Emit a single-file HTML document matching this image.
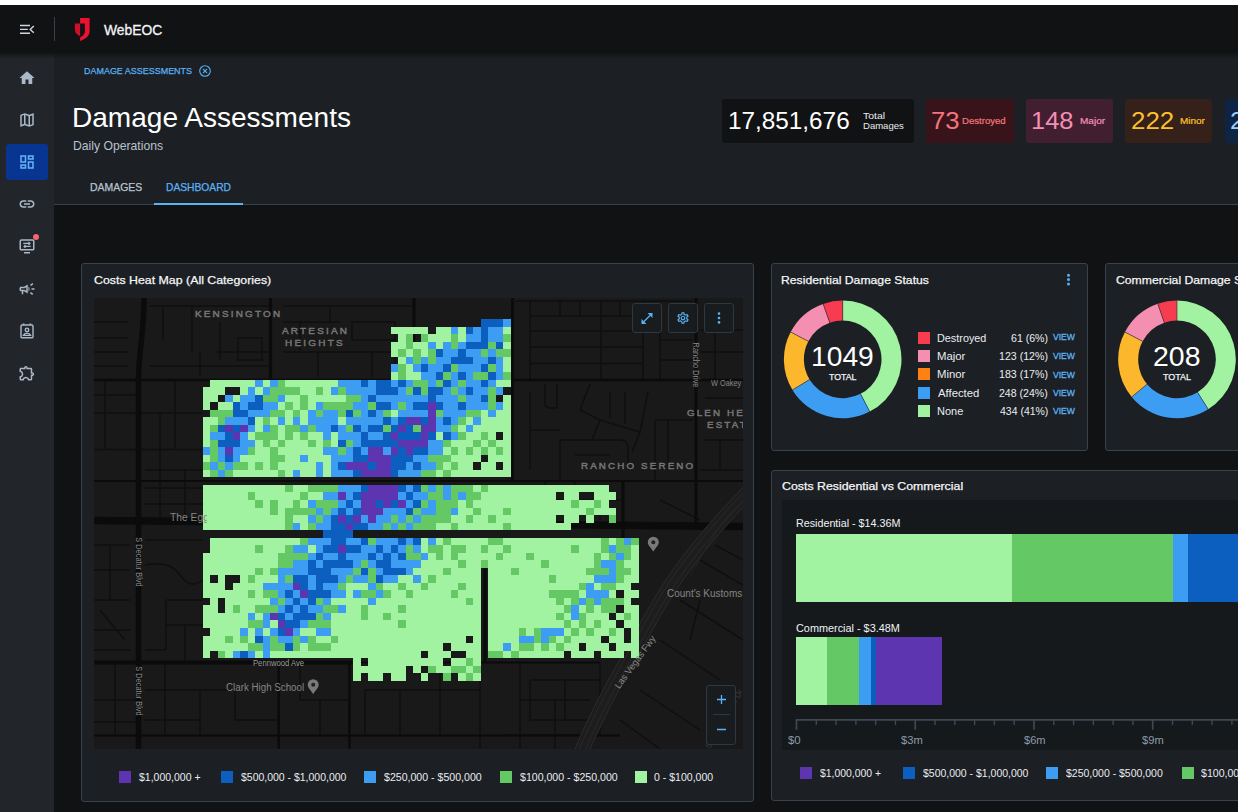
<!DOCTYPE html>
<html lang="en">
<head>
<meta charset="utf-8">
<title>WebEOC - Damage Assessments</title>
<style>
*{box-sizing:border-box;margin:0;padding:0}
html,body{width:1238px;height:812px;overflow:hidden;background:#111214;font-family:"Liberation Sans",sans-serif;color:#fff}
.abs{position:absolute}
#strip{left:0;top:0;width:1238px;height:5px;background:#fff}
#hdr{left:0;top:5px;width:1238px;height:48px;background:#111214}
#side{left:0;top:53px;width:54px;height:759px;background:#22262a}
#phead{left:54px;top:53px;width:1184px;height:151px;background:#1c1f24}
#pline{left:54px;top:204px;width:1184px;height:1px;background:#3a424a}
#dash{left:54px;top:205px;width:1184px;height:607px;background:#111214}
.t{position:absolute;white-space:nowrap;line-height:1}
.card{position:absolute;background:#1c1f23;border:1px solid #38424c;border-radius:3px}
.ct{font-size:12px;color:#f4f6f8;letter-spacing:.1px}
.lg{font-size:11px;color:#e9edf1}
.sw{position:absolute;width:12px;height:12px}
.stat{position:absolute;top:99px;height:44px;border-radius:3px}
.mapl{position:absolute;white-space:nowrap;line-height:1;color:#6f6f6f;font-size:10px;letter-spacing:2.2px;font-weight:bold}
.maps{position:absolute;white-space:nowrap;line-height:1;color:#6a6a6a;font-size:9px}
.mbtn{position:absolute;top:303px;width:30px;height:30px;border:1px solid #2c3842;border-radius:3px;background:rgba(24,28,32,.92)}
</style>
</head>
<body>
<div class="abs" id="strip"></div>
<div class="abs" id="hdr"></div>
<div class="abs" id="side"></div>
<div class="abs" id="phead"></div>
<div class="abs" id="pline"></div>
<div class="abs" id="dash"></div>
<div class="abs" style="left:0;top:53px;width:1238px;height:6px;background:linear-gradient(rgba(17,18,20,.85),rgba(17,18,20,0))"></div>

<!-- header -->
<svg class="abs" style="left:19px;top:23px" width="17" height="14" viewBox="0 0 17 14"><g stroke="#cfd7e0" stroke-width="1.4" fill="none"><path d="M1 2.500h10M1 6.400h7.800M1 10.300h10"/><path d="M14.800 3L11.200 6.400L14.800 9.800"/></g></svg>
<div class="abs" style="left:54px;top:17px;width:1px;height:24px;background:#3a414a"></div>
<svg class="abs" style="left:74px;top:17px" width="17" height="25" viewBox="0 0 17 25"><path d="M.9 6.400H6.100V19.200C3 17.600 .9 15.600 .9 12.500Z" fill="#cf0f2a"/><path d="M6.100 1H15.600V14C15.600 19 11.600 22 6.100 24V20.300C9 19 10.900 17 10.900 14V6.400H6.100Z" fill="#ec1131"/></svg>

<!-- sidebar icons -->
<svg class="abs" style="left:18px;top:69px" width="18" height="18" viewBox="0 0 24 24"><path fill="#aab8c8" d="M10 20v-6h4v6h5v-8h3L12 3 2 12h3v8z"/></svg>
<svg class="abs" style="left:18px;top:111px" width="18" height="18" viewBox="0 0 24 24"><path fill="#aab8c8" d="M20.5 3l-.16.03L15 5.100 9 3 3.360 4.900c-.21.07-.36.25-.36.48V20.500c0 .28.22.5.5.5l.16-.03L9 18.900l6 2.100 5.640-1.900c.21-.07.36-.25.36-.48V3.500c0-.28-.22-.5-.5-.5zM10 5.470l4 1.400v11.660l-4-1.400V5.470zm-5 .99l3-1.010v11.700l-3 1.160V6.460zm14 11.080l-3 1.010V6.860l3-1.160v11.840z"/></svg>
<div class="abs" style="left:6px;top:144px;width:42px;height:36px;border-radius:3px;background:#083591"></div>
<svg class="abs" style="left:18px;top:153px" width="18" height="18" viewBox="0 0 24 24"><path fill="#64b5f6" d="M19 5v2h-4V5h4M9 5v6H5V5h4m10 8v6h-4v-6h4M9 17v2H5v-2h4M21 3h-8v6h8V3zM11 3H3v10h8V3zm10 8h-8v10h8V11zm-10 4H3v6h8v-6z"/></svg>
<svg class="abs" style="left:18px;top:195px" width="18" height="18" viewBox="0 0 24 24"><path fill="#aab8c8" d="M17 7h-4v2h4c1.650 0 3 1.350 3 3s-1.350 3-3 3h-4v2h4c2.760 0 5-2.240 5-5s-2.240-5-5-5zm-6 8H7c-1.650 0-3-1.350-3-3s1.350-3 3-3h4V7H7c-2.760 0-5 2.240-5 5s2.240 5 5 5h4v-2zm-3-4h8v2H8z"/></svg>
<svg class="abs" style="left:18px;top:237px" width="18" height="18" viewBox="0 0 24 24"><g fill="none" stroke="#aab8c8" stroke-width="2"><rect x="3" y="4" width="18" height="13" rx="1.5"/><path d="M8 21h8"/><path d="M7 8.500h9M14 6.500l2 2-2 2M17 12.500H8M10 10.500l-2 2 2 2" stroke-width="1.500"/></g></svg>
<div class="abs" style="left:33px;top:234px;width:6px;height:6px;border-radius:3px;background:#f4656e"></div>
<svg class="abs" style="left:18px;top:280px" width="18" height="18" viewBox="0 0 24 24"><path fill="#aab8c8" d="M18 11v2h4v-2h-4zm-2 6.610c.96.710 2.210 1.650 3.200 2.390.4-.53.8-1.070 1.200-1.600-.99-.74-2.240-1.680-3.200-2.400-.4.540-.8 1.080-1.200 1.610zM20.400 5.600c-.4-.53-.8-1.070-1.200-1.600-.99.740-2.240 1.680-3.200 2.400.4.530.8 1.070 1.200 1.600.96-.72 2.210-1.650 3.200-2.400zM4 9c-1.100 0-2 .9-2 2v2c0 1.100.9 2 2 2h1v4h2v-4h1l5 3V6L8 9H4zm5.030 1.710L11 9.530v4.940l-1.970-1.180-.48-.29H4v-2h4.550l.48-.29zM15.500 12c0-1.330-.58-2.530-1.500-3.350v6.690c.92-.81 1.500-2.010 1.500-3.340z"/></svg>
<svg class="abs" style="left:18px;top:322px" width="18" height="18" viewBox="0 0 24 24"><g fill="none" stroke="#aab8c8" stroke-width="1.900"><rect x="4" y="4" width="16" height="17" rx="1.500"/><path d="M7.500 4V2M16.500 4V2" stroke-width="2.200"/><circle cx="12" cy="10.500" r="2.300"/><path d="M7.300 17.800c.8-2 2.600-3 4.700-3s3.900 1 4.700 3z"/></g></svg>
<svg class="abs" style="left:18px;top:364px" width="18" height="18" viewBox="0 0 24 24"><path fill="#aab8c8" d="M10.500 4.500c.28 0 .5.220.5.500v2h6v6h2c.28 0 .5.220.5.500s-.22.500-.5.500h-2v6h-2.120c-.68-1.750-2.390-3-4.380-3s-3.700 1.250-4.380 3H4v-2.120c1.750-.68 3-2.390 3-4.380 0-1.990-1.240-3.700-2.990-4.380L4 7h6V5c0-.28.220-.5.500-.5m0-2C9.120 2.500 8 3.620 8 5H4c-1.100 0-1.990.9-1.990 2v3.800h.29c1.490 0 2.700 1.210 2.700 2.700s-1.210 2.700-2.700 2.700H2V20c0 1.100.9 2 2 2h3.800v-.3c0-1.490 1.210-2.700 2.700-2.700s2.700 1.210 2.700 2.700v.3H17c1.100 0 2-.9 2-2v-4c1.380 0 2.500-1.120 2.500-2.500S20.380 11 19 11V7c0-1.100-.9-2-2-2h-4c0-1.380-1.120-2.500-2.500-2.500z"/></svg>

<!-- page head -->
<svg class="abs" style="left:198px;top:64px" width="14" height="14" viewBox="0 0 14 14"><circle cx="7" cy="7" r="5.3" fill="none" stroke="#5ab1f3" stroke-width="1.1"/><path d="M4.9 4.9l4.2 4.2M9.1 4.9L4.9 9.1" stroke="#5ab1f3" stroke-width="1.1"/></svg>
<div class="abs" style="left:154px;top:203px;width:89px;height:2px;background:#5ab1f3"></div>

<!-- stats -->
<div class="stat" style="left:722px;width:192px;background:#111214"></div>
<div class="stat" style="left:926px;width:88px;background:#38141a"></div>
<div class="stat" style="left:1026px;width:87px;background:#411f31"></div>
<div class="stat" style="left:1125px;width:87px;background:#35201a"></div>
<div class="stat" style="left:1225px;width:87px;background:#0f2345"></div>

<!-- heat map card -->
<div class="card" style="left:81px;top:263px;width:673px;height:539px"></div>
<svg class="abs" style="left:94px;top:298px;border-radius:2px" width="649" height="451" viewBox="94 298 649 451">
<rect x="94" y="298" width="649" height="451" fill="#191919"/>
<path d="M94 322H128M94 338H128M94 352H128M94 366H128M94 413H203M94 449.500H203M94 395H137M105 381V449M175 381V449M160 413V449" stroke="#0f0f0f" stroke-width="1.5" fill="none"/>
<path d="M150 306H270M163 306V340M192 306V352M220 322V360M238 338H262V360H238zM215 352H270M150 366H270M200 352V377" stroke="#0f0f0f" stroke-width="1.5" fill="none"/>
<path d="M283 306H414M283 322H340M283 352H414M300 322V352M330 306V322M352 322H395V340H352zM372 352V377M318 352V377M395 352V377" stroke="#0f0f0f" stroke-width="1.5" fill="none"/>
<path d="M145 470H203M145 488H203M145 504H203M160 449V520M185 470V520" stroke="#0f0f0f" stroke-width="1.5" fill="none"/>
<path d="M515 301H693M530 316H643M530 331H643M530 347H643M530 363.500H643M530 301V380M601 301V380M643 301V380M560 301V316M580 301V316M620 301V316M660 316V380M660 340H693M660 360H693" stroke="#0f0f0f" stroke-width="1.5" fill="none"/>
<path d="M700 330H743M700 352H743M715 330V380M705 398H743M705 440H743M720 440V470M700 470H743" stroke="#0f0f0f" stroke-width="1.5" fill="none"/>
<path d="M545 384V404Q545 408 551 408H557V384M530 392V470M590 384L580 410L600 420L640 432L648 392M610 392V418M625 392V424M600 420L592 440M640 432L632 452M560 440H620Q628 440 628 448V470M560 440V480M530 430H560M575 455H610M655 420V480M668 420V470M655 420H693" stroke="#0f0f0f" stroke-width="1.5" fill="none"/>
<path d="M530 500H623M545 480V520M575 480V500M600 500V520" stroke="#0f0f0f" stroke-width="1.5" fill="none"/>
<path d="M94 545H130M94 570H130M94 600H130M94 630H130M110 545V600M100 610L125 640M94 650H130" stroke="#0f0f0f" stroke-width="1.5" fill="none"/>
<path d="M145 540H203M145 565Q170 560 180 575T203 580M166 600H203M166 600V650M166 625H203M185 625V662M145 650H166" stroke="#0f0f0f" stroke-width="1.5" fill="none"/>
<path d="M94 700H137M94 722H137M115 662V735M145 690H279M165 662V735M200 690V735M235 690V720H279M145 720H200M300 700H349V735M300 662V700M320 700V735M365 690H480M365 690V735M400 690V735M440 662V735M480 681V749M520 662V749M520 700H590M555 700V749M500 735H600" stroke="#0f0f0f" stroke-width="1.5" fill="none"/>
<path d="M530 680H600M530 680V720H600M565 680V720M600 662V735" stroke="#0f0f0f" stroke-width="1.5" fill="none"/>
<path d="M660 500L700 520M700 560L743 585M680 600L743 640M660 640L720 680M640 690L700 730M620 720L660 749M700 600L690 640M715 545L743 560" stroke="#0f0f0f" stroke-width="1.5" fill="none"/>
<path d="M94 380H743" stroke="#0b0b0b" stroke-width="2.6" fill="none"/>
<path d="M94 520.500L743 526.500" stroke="#0b0b0b" stroke-width="7.5" fill="none"/>
<path d="M144 298C144 335 138.500 350 138.500 381V749" stroke="#0b0b0b" stroke-width="5.5" fill="none"/>
<path d="M270.500 298V380" stroke="#0b0b0b" stroke-width="3.2" fill="none"/>
<path d="M414 298V380" stroke="#0b0b0b" stroke-width="3" fill="none"/>
<path d="M512.500 298V482" stroke="#0b0b0b" stroke-width="3" fill="none"/>
<path d="M696 298V528" stroke="#0b0b0b" stroke-width="3" fill="none"/>
<path d="M94 481H743" stroke="#0b0b0b" stroke-width="1.8" fill="none"/>
<path d="M94 662.500H355" stroke="#0b0b0b" stroke-width="4" fill="none"/>
<path d="M355 662.500H600" stroke="#0b0b0b" stroke-width="2" fill="none"/>
<path d="M94 735.500H620" stroke="#0b0b0b" stroke-width="2.2" fill="none"/>
<path d="M278.700 662V749" stroke="#0b0b0b" stroke-width="2.5" fill="none"/>
<path d="M349.500 662V749" stroke="#0b0b0b" stroke-width="2.5" fill="none"/>
<path d="M623 482V540" stroke="#0b0b0b" stroke-width="3" fill="none"/>
<path d="M485 540V662" stroke="#0b0b0b" stroke-width="3" fill="none"/>
<path d="M760 480C700 540 672 580 650 620S600 705 578 760" stroke="#1d1d1d" stroke-width="15" fill="none"/>
<path d="M760 480C700 540 672 580 650 620S600 705 578 760" stroke="#2c2c2c" stroke-width="1" fill="none" transform="translate(-6 -3.6)"/>
<path d="M760 480C700 540 672 580 650 620S600 705 578 760" stroke="#2a2a2a" stroke-width="1" fill="none" transform="translate(-2.5 -1.5)"/>
<path d="M760 480C700 540 672 580 650 620S600 705 578 760" stroke="#2a2a2a" stroke-width="1" fill="none" transform="translate(2.5 1.5)"/>
<path d="M760 480C700 540 672 580 650 620S600 705 578 760" stroke="#2c2c2c" stroke-width="1" fill="none" transform="translate(6 3.6)"/>
<path d="M743 500C720 520 700 560 690 575" stroke="#262626" stroke-width="1" fill="none"/>
<g transform="translate(313.2 686.5)"><path d="M0 7.500C-3 3-5.500 1-5.500-1.800A5.500 5.500 0 0 1 5.500-1.800C5.500 1 3 3 0 7.500z" fill="#7a7a7a"/><circle cx="0" cy="-1.800" r="2" fill="#222"/></g>
<g transform="translate(653.3 544)"><path d="M0 7.500C-3 3-5.500 1-5.500-1.800A5.500 5.500 0 0 1 5.500-1.800C5.500 1 3 3 0 7.500z" fill="#7a7a7a"/><circle cx="0" cy="-1.800" r="2" fill="#222"/></g>
<g shape-rendering="crispEdges"><path d="M391 327h37v7h-37zM436 327h15v7h-15zM458 327h8v7h-8zM503 327h8v7h-8zM398 334h8v8h-8zM428 334h23v8h-23zM458 334h8v8h-8zM391 342h15v7h-15zM413 342h15v7h-15zM436 342h7v7h-7zM503 342h8v7h-8zM391 349h7v8h-7zM406 349h7v8h-7zM421 349h7v8h-7zM398 357h8v7h-8zM503 357h8v7h-8zM406 364h7v8h-7zM503 364h8v8h-8zM391 372h7v8h-7zM406 372h15v8h-15zM210 380h45v7h-45zM263 380h7v7h-7zM285 380h53v7h-53zM496 380h15v7h-15zM203 387h22v8h-22zM240 387h8v8h-8zM255 387h8v8h-8zM300 387h16v8h-16zM323 387h8v8h-8zM203 395h15v7h-15zM233 395h7v7h-7zM285 395h15v7h-15zM308 395h38v7h-38zM503 395h8v7h-8zM203 402h7v8h-7zM218 402h15v8h-15zM278 402h7v8h-7zM293 402h7v8h-7zM308 402h8v8h-8zM503 402h8v8h-8zM285 410h8v7h-8zM300 410h8v7h-8zM391 410h7v7h-7zM481 410h7v7h-7zM496 410h15v7h-15zM203 417h15v8h-15zM255 417h8v8h-8zM270 417h8v8h-8zM285 417h8v8h-8zM300 417h8v8h-8zM338 417h8v8h-8zM466 417h7v8h-7zM481 417h30v8h-30zM203 425h7v7h-7zM255 425h8v7h-8zM278 425h7v7h-7zM458 425h8v7h-8zM473 425h38v7h-38zM203 432h7v8h-7zM248 432h7v8h-7zM278 432h7v8h-7zM293 432h7v8h-7zM308 432h15v8h-15zM331 432h7v8h-7zM436 432h7v8h-7zM466 432h15v8h-15zM488 432h8v8h-8zM503 432h8v8h-8zM203 440h7v7h-7zM255 440h8v7h-8zM270 440h8v7h-8zM285 440h23v7h-23zM316 440h7v7h-7zM331 440h7v7h-7zM451 440h22v7h-22zM481 440h7v7h-7zM496 440h15v7h-15zM255 447h15v8h-15zM278 447h45v8h-45zM443 447h8v8h-8zM458 447h8v8h-8zM473 447h8v8h-8zM488 447h8v8h-8zM503 447h8v8h-8zM203 455h7v7h-7zM240 455h30v7h-30zM285 455h15v7h-15zM308 455h23v7h-23zM451 455h30v7h-30zM488 455h23v7h-23zM248 462h7v8h-7zM263 462h7v8h-7zM278 462h38v8h-38zM323 462h8v8h-8zM443 462h8v8h-8zM458 462h15v8h-15zM481 462h15v8h-15zM503 462h8v8h-8zM203 470h7v7h-7zM233 470h45v7h-45zM285 470h8v7h-8zM300 470h16v7h-16zM323 470h8v7h-8zM436 470h7v7h-7zM451 470h60v7h-60zM203 485h82v7h-82zM293 485h15v7h-15zM473 485h8v7h-8zM488 485h121v7h-121zM203 492h45v8h-45zM255 492h45v8h-45zM308 492h15v8h-15zM481 492h75v8h-75zM564 492h15v8h-15zM594 492h22v8h-22zM203 500h52v8h-52zM263 500h7v8h-7zM278 500h15v8h-15zM300 500h8v8h-8zM458 500h8v8h-8zM473 500h98v8h-98zM579 500h15v8h-15zM601 500h8v8h-8zM203 508h67v7h-67zM278 508h7v7h-7zM458 508h15v7h-15zM481 508h22v7h-22zM511 508h75v7h-75zM594 508h22v7h-22zM203 515h82v8h-82zM293 515h15v8h-15zM451 515h15v8h-15zM473 515h15v8h-15zM496 515h60v8h-60zM564 515h15v8h-15zM586 515h8v8h-8zM203 523h82v7h-82zM300 523h8v7h-8zM436 523h15v7h-15zM458 523h45v7h-45zM511 523h60v7h-60zM210 538h90v7h-90zM421 538h7v7h-7zM436 538h7v7h-7zM451 538h37v7h-37zM503 538h98v7h-98zM609 538h7v7h-7zM210 545h45v8h-45zM263 545h22v8h-22zM308 545h8v8h-8zM421 545h7v8h-7zM443 545h8v8h-8zM466 545h15v8h-15zM488 545h15v8h-15zM511 545h60v8h-60zM579 545h22v8h-22zM631 545h8v8h-8zM203 553h75v7h-75zM428 553h8v7h-8zM443 553h8v7h-8zM458 553h38v7h-38zM503 553h23v7h-23zM534 553h60v7h-60zM601 553h8v7h-8zM631 553h8v7h-8zM203 560h75v8h-75zM421 560h37v8h-37zM466 560h15v8h-15zM488 560h53v8h-53zM549 560h45v8h-45zM624 560h15v8h-15zM203 568h52v7h-52zM263 568h7v7h-7zM413 568h30v7h-30zM451 568h30v7h-30zM488 568h23v7h-23zM519 568h67v7h-67zM631 568h8v7h-8zM203 575h7v8h-7zM218 575h7v8h-7zM240 575h8v8h-8zM255 575h23v8h-23zM398 575h15v8h-15zM421 575h7v8h-7zM436 575h45v8h-45zM488 575h61v8h-61zM556 575h38v8h-38zM624 575h15v8h-15zM203 583h22v7h-22zM233 583h30v7h-30zM346 583h22v7h-22zM383 583h15v7h-15zM406 583h15v7h-15zM428 583h30v7h-30zM466 583h15v7h-15zM488 583h91v7h-91zM594 583h7v7h-7zM616 583h15v7h-15zM203 590h45v8h-45zM255 590h8v8h-8zM346 590h7v8h-7zM391 590h15v8h-15zM413 590h38v8h-38zM458 590h23v8h-23zM488 590h61v8h-61zM579 590h7v8h-7zM609 590h7v8h-7zM624 590h15v8h-15zM210 598h8v7h-8zM225 598h45v7h-45zM331 598h37v7h-37zM376 598h90v7h-90zM473 598h8v7h-8zM488 598h68v7h-68zM564 598h7v7h-7zM624 598h7v7h-7zM203 605h15v8h-15zM225 605h8v8h-8zM240 605h15v8h-15zM346 605h15v8h-15zM368 605h30v8h-30zM406 605h75v8h-75zM488 605h76v8h-76zM579 605h7v8h-7zM594 605h7v8h-7zM624 605h15v8h-15zM203 613h45v7h-45zM255 613h8v7h-8zM331 613h30v7h-30zM368 613h15v7h-15zM391 613h90v7h-90zM488 613h68v7h-68zM564 613h7v7h-7zM586 613h23v7h-23zM616 613h8v7h-8zM631 613h8v7h-8zM203 620h45v8h-45zM270 620h8v8h-8zM331 620h67v8h-67zM406 620h75v8h-75zM488 620h76v8h-76zM571 620h8v8h-8zM586 620h8v8h-8zM601 620h15v8h-15zM624 620h15v8h-15zM210 628h30v8h-30zM248 628h7v8h-7zM263 628h7v8h-7zM300 628h16v8h-16zM331 628h150v8h-150zM488 628h31v8h-31zM526 628h8v8h-8zM564 628h7v8h-7zM579 628h7v8h-7zM594 628h15v8h-15zM616 628h8v8h-8zM631 628h8v8h-8zM203 636h22v7h-22zM233 636h7v7h-7zM248 636h7v7h-7zM316 636h15v7h-15zM338 636h128v7h-128zM473 636h8v7h-8zM488 636h31v7h-31zM556 636h8v7h-8zM571 636h30v7h-30zM609 636h15v7h-15zM631 636h8v7h-8zM203 643h45v8h-45zM300 643h8v8h-8zM331 643h112v8h-112zM451 643h30v8h-30zM488 643h15v8h-15zM511 643h8v8h-8zM534 643h7v8h-7zM549 643h7v8h-7zM564 643h15v8h-15zM586 643h23v8h-23zM616 643h23v8h-23zM203 651h7v7h-7zM225 651h8v7h-8zM255 651h8v7h-8zM270 651h151v7h-151zM428 651h23v7h-23zM466 651h15v7h-15zM503 651h8v7h-8zM519 651h45v7h-45zM571 651h23v7h-23zM601 651h23v7h-23zM631 651h8v7h-8zM353 658h8v8h-8zM368 658h75v8h-75zM451 658h15v8h-15zM473 658h8v8h-8zM353 666h53v7h-53zM413 666h8v7h-8zM436 666h15v7h-15zM466 666h7v7h-7zM353 673h8v8h-8zM368 673h15v8h-15zM391 673h15v8h-15zM421 673h7v8h-7zM458 673h8v8h-8zM473 673h8v8h-8z" fill="#a1f3a1"/><path d="M406 334h7v8h-7zM421 334h7v8h-7zM451 334h7v8h-7zM503 334h8v8h-8zM406 342h7v7h-7zM451 342h7v7h-7zM488 342h8v7h-8zM398 349h8v8h-8zM413 349h8v8h-8zM428 349h8v8h-8zM481 349h7v8h-7zM496 349h15v8h-15zM413 357h8v7h-8zM428 357h8v7h-8zM398 364h8v8h-8zM451 364h7v8h-7zM488 364h8v8h-8zM398 372h8v8h-8zM443 372h8v8h-8zM473 372h15v8h-15zM503 372h8v8h-8zM278 380h7v7h-7zM413 380h15v7h-15zM436 380h7v7h-7zM458 380h8v7h-8zM270 387h30v8h-30zM316 387h7v8h-7zM338 387h8v8h-8zM406 387h7v8h-7zM421 387h7v8h-7zM451 387h7v8h-7zM488 387h8v8h-8zM263 395h15v7h-15zM300 395h8v7h-8zM346 395h15v7h-15zM458 395h8v7h-8zM488 395h8v7h-8zM285 402h8v8h-8zM300 402h8v8h-8zM323 402h30v8h-30zM368 402h8v8h-8zM398 402h8v8h-8zM488 402h8v8h-8zM210 410h23v7h-23zM270 410h15v7h-15zM293 410h7v7h-7zM316 410h7v7h-7zM338 410h8v7h-8zM353 410h8v7h-8zM383 410h8v7h-8zM436 410h7v7h-7zM466 410h15v7h-15zM218 417h7v8h-7zM263 417h7v8h-7zM458 417h8v8h-8zM210 425h8v7h-8zM270 425h8v7h-8zM285 425h15v7h-15zM308 425h8v7h-8zM346 425h7v7h-7zM383 425h8v7h-8zM413 425h8v7h-8zM451 425h7v7h-7zM255 432h23v8h-23zM285 432h8v8h-8zM300 432h8v8h-8zM458 432h8v8h-8zM481 432h7v8h-7zM210 440h8v7h-8zM263 440h7v7h-7zM278 440h7v7h-7zM308 440h8v7h-8zM323 440h8v7h-8zM346 440h7v7h-7zM443 440h8v7h-8zM473 440h8v7h-8zM488 440h8v7h-8zM210 447h8v8h-8zM248 447h7v8h-7zM270 447h8v8h-8zM338 447h8v8h-8zM451 447h7v8h-7zM466 447h7v8h-7zM481 447h7v8h-7zM496 447h7v8h-7zM210 455h8v7h-8zM270 455h15v7h-15zM428 455h23v7h-23zM203 462h7v8h-7zM218 462h7v8h-7zM233 462h15v8h-15zM255 462h8v8h-8zM270 462h8v8h-8zM436 462h7v8h-7zM451 462h7v8h-7zM210 470h8v7h-8zM225 470h8v7h-8zM278 470h7v7h-7zM421 470h15v7h-15zM443 470h8v7h-8zM285 485h8v7h-8zM308 485h30v7h-30zM421 485h7v7h-7zM436 485h7v7h-7zM451 485h22v7h-22zM481 485h7v7h-7zM248 492h7v8h-7zM300 492h8v8h-8zM428 492h15v8h-15zM451 492h7v8h-7zM466 492h15v8h-15zM255 500h8v8h-8zM270 500h8v8h-8zM293 500h7v8h-7zM316 500h22v8h-22zM421 500h7v8h-7zM436 500h22v8h-22zM466 500h7v8h-7zM571 500h8v8h-8zM594 500h7v8h-7zM270 508h8v7h-8zM285 508h31v7h-31zM323 508h8v7h-8zM413 508h8v7h-8zM436 508h15v7h-15zM473 508h8v7h-8zM503 508h8v7h-8zM586 508h8v7h-8zM285 515h8v8h-8zM316 515h7v8h-7zM391 515h7v8h-7zM406 515h7v8h-7zM421 515h30v8h-30zM466 515h7v8h-7zM488 515h8v8h-8zM609 515h7v8h-7zM285 523h8v7h-8zM308 523h8v7h-8zM383 523h8v7h-8zM398 523h8v7h-8zM413 523h23v7h-23zM451 523h7v7h-7zM503 523h8v7h-8zM300 538h8v7h-8zM368 538h8v7h-8zM443 538h8v7h-8zM488 538h15v7h-15zM601 538h8v7h-8zM616 538h8v7h-8zM631 538h8v7h-8zM255 545h8v8h-8zM285 545h8v8h-8zM406 545h7v8h-7zM428 545h15v8h-15zM451 545h15v8h-15zM481 545h7v8h-7zM503 545h8v8h-8zM571 545h8v8h-8zM601 545h8v8h-8zM616 545h15v8h-15zM278 553h30v7h-30zM406 553h15v7h-15zM436 553h7v7h-7zM451 553h7v7h-7zM496 553h7v7h-7zM526 553h8v7h-8zM594 553h7v7h-7zM609 553h7v7h-7zM624 553h7v7h-7zM278 560h15v8h-15zM361 560h7v8h-7zM458 560h8v8h-8zM481 560h7v8h-7zM541 560h8v8h-8zM594 560h7v8h-7zM616 560h8v8h-8zM255 568h8v7h-8zM270 568h8v7h-8zM353 568h8v7h-8zM368 568h8v7h-8zM443 568h8v7h-8zM511 568h8v7h-8zM586 568h23v7h-23zM616 568h15v7h-15zM248 575h7v8h-7zM285 575h8v8h-8zM346 575h7v8h-7zM368 575h8v8h-8zM428 575h8v8h-8zM549 575h7v8h-7zM616 575h8v8h-8zM338 583h8v7h-8zM376 583h7v7h-7zM398 583h8v7h-8zM421 583h7v7h-7zM458 583h8v7h-8zM579 583h7v7h-7zM601 583h15v7h-15zM248 590h7v8h-7zM263 590h15v8h-15zM361 590h15v8h-15zM383 590h8v8h-8zM406 590h7v8h-7zM451 590h7v8h-7zM549 590h30v8h-30zM278 598h7v7h-7zM316 598h7v7h-7zM466 598h7v7h-7zM556 598h8v7h-8zM571 598h8v7h-8zM586 598h8v7h-8zM601 598h23v7h-23zM233 605h7v8h-7zM255 605h23v8h-23zM323 605h15v8h-15zM361 605h7v8h-7zM398 605h8v8h-8zM564 605h7v8h-7zM586 605h8v8h-8zM601 605h15v8h-15zM316 613h7v7h-7zM361 613h7v7h-7zM383 613h8v7h-8zM556 613h8v7h-8zM579 613h7v7h-7zM624 613h7v7h-7zM248 620h15v8h-15zM308 620h23v8h-23zM398 620h8v8h-8zM564 620h7v8h-7zM579 620h7v8h-7zM594 620h7v8h-7zM519 628h7v8h-7zM534 628h7v8h-7zM571 628h8v8h-8zM586 628h8v8h-8zM609 628h7v8h-7zM225 636h8v7h-8zM240 636h8v7h-8zM270 636h8v7h-8zM293 636h7v7h-7zM308 636h8v7h-8zM331 636h7v7h-7zM534 636h7v7h-7zM549 636h7v7h-7zM564 636h7v7h-7zM248 643h15v8h-15zM270 643h15v8h-15zM293 643h7v8h-7zM308 643h23v8h-23zM519 643h15v8h-15zM541 643h8v8h-8zM556 643h8v8h-8zM218 651h7v7h-7zM488 651h15v7h-15zM511 651h8v7h-8zM466 658h7v8h-7zM428 666h8v7h-8zM451 666h15v7h-15zM473 666h8v7h-8zM443 673h8v8h-8zM466 673h7v8h-7z" fill="#64c864"/><path d="M503 319h8v8h-8zM451 327h7v7h-7zM473 327h8v7h-8zM488 327h15v7h-15zM466 334h15v8h-15zM488 334h15v8h-15zM428 342h8v7h-8zM443 342h8v7h-8zM458 342h8v7h-8zM443 349h15v8h-15zM466 349h15v8h-15zM488 349h8v8h-8zM406 357h7v7h-7zM421 357h7v7h-7zM436 357h15v7h-15zM473 357h15v7h-15zM496 357h7v7h-7zM391 364h7v8h-7zM413 364h8v8h-8zM428 364h15v8h-15zM458 364h23v8h-23zM496 364h7v8h-7zM421 372h15v8h-15zM451 372h7v8h-7zM466 372h7v8h-7zM496 372h7v8h-7zM255 380h8v7h-8zM270 380h8v7h-8zM338 380h23v7h-23zM368 380h8v7h-8zM391 380h7v7h-7zM406 380h7v7h-7zM428 380h8v7h-8zM451 380h7v7h-7zM466 380h15v7h-15zM488 380h8v7h-8zM248 387h7v8h-7zM263 387h7v8h-7zM331 387h7v8h-7zM346 387h30v8h-30zM398 387h8v8h-8zM443 387h8v8h-8zM458 387h8v8h-8zM473 387h15v8h-15zM496 387h7v8h-7zM225 395h8v7h-8zM240 395h15v7h-15zM278 395h7v7h-7zM361 395h7v7h-7zM376 395h52v7h-52zM436 395h22v7h-22zM466 395h15v7h-15zM240 402h8v8h-8zM263 402h15v8h-15zM316 402h7v8h-7zM353 402h15v8h-15zM391 402h7v8h-7zM406 402h7v8h-7zM443 402h15v8h-15zM466 402h22v8h-22zM496 402h7v8h-7zM248 410h22v7h-22zM308 410h8v7h-8zM323 410h15v7h-15zM361 410h7v7h-7zM376 410h7v7h-7zM398 410h30v7h-30zM443 410h23v7h-23zM488 410h8v7h-8zM225 417h23v8h-23zM278 417h7v8h-7zM293 417h7v8h-7zM308 417h30v8h-30zM346 417h37v8h-37zM391 417h7v8h-7zM436 417h7v8h-7zM451 417h7v8h-7zM473 417h8v8h-8zM248 425h7v7h-7zM263 425h7v7h-7zM300 425h8v7h-8zM316 425h15v7h-15zM338 425h8v7h-8zM361 425h7v7h-7zM436 425h15v7h-15zM466 425h7v7h-7zM210 432h15v8h-15zM240 432h8v8h-8zM323 432h8v8h-8zM338 432h23v8h-23zM368 432h15v8h-15zM451 432h7v8h-7zM240 440h15v7h-15zM353 440h8v7h-8zM428 440h15v7h-15zM203 447h7v8h-7zM218 447h7v8h-7zM233 447h15v8h-15zM323 447h15v8h-15zM346 447h7v8h-7zM361 447h7v8h-7zM383 447h8v8h-8zM428 447h15v8h-15zM218 455h7v7h-7zM233 455h7v7h-7zM300 455h8v7h-8zM331 455h22v7h-22zM413 455h15v7h-15zM210 462h8v8h-8zM225 462h8v8h-8zM316 462h7v8h-7zM331 462h7v8h-7zM406 462h7v8h-7zM421 462h15v8h-15zM218 470h7v7h-7zM293 470h7v7h-7zM316 470h7v7h-7zM331 470h22v7h-22zM398 470h23v7h-23zM338 485h23v7h-23zM406 485h7v7h-7zM428 485h8v7h-8zM443 485h8v7h-8zM323 492h15v8h-15zM346 492h7v8h-7zM398 492h8v8h-8zM413 492h15v8h-15zM443 492h8v8h-8zM458 492h8v8h-8zM308 500h8v8h-8zM338 500h8v8h-8zM353 500h8v8h-8zM406 500h7v8h-7zM428 500h8v8h-8zM316 508h7v7h-7zM331 508h7v7h-7zM346 508h7v7h-7zM383 508h23v7h-23zM421 508h15v7h-15zM451 508h7v7h-7zM308 515h8v8h-8zM323 515h8v8h-8zM361 515h7v8h-7zM376 515h15v8h-15zM398 515h8v8h-8zM413 515h8v8h-8zM293 523h7v7h-7zM316 523h15v7h-15zM368 523h15v7h-15zM391 523h7v7h-7zM406 523h7v7h-7zM308 538h23v7h-23zM346 538h15v7h-15zM376 538h22v7h-22zM406 538h7v7h-7zM428 538h8v7h-8zM624 538h7v7h-7zM293 545h15v8h-15zM316 545h7v8h-7zM361 545h15v8h-15zM383 545h8v8h-8zM398 545h8v8h-8zM413 545h8v8h-8zM609 545h7v8h-7zM308 553h8v7h-8zM323 553h15v7h-15zM346 553h22v7h-22zM376 553h7v7h-7zM391 553h7v7h-7zM421 553h7v7h-7zM616 553h8v7h-8zM293 560h15v8h-15zM316 560h7v8h-7zM353 560h8v8h-8zM368 560h8v8h-8zM391 560h30v8h-30zM601 560h15v8h-15zM278 568h30v7h-30zM331 568h22v7h-22zM376 568h7v7h-7zM406 568h7v7h-7zM609 568h7v7h-7zM278 575h7v8h-7zM308 575h8v8h-8zM338 575h8v8h-8zM353 575h15v8h-15zM383 575h15v8h-15zM413 575h8v8h-8zM594 575h22v8h-22zM263 583h30v7h-30zM308 583h8v7h-8zM323 583h15v7h-15zM368 583h8v7h-8zM586 583h8v7h-8zM278 590h7v8h-7zM293 590h7v8h-7zM331 590h15v8h-15zM353 590h8v8h-8zM376 590h7v8h-7zM586 590h23v8h-23zM270 598h8v7h-8zM285 598h8v7h-8zM300 598h8v7h-8zM323 598h8v7h-8zM368 598h8v7h-8zM579 598h7v7h-7zM594 598h7v7h-7zM278 605h7v8h-7zM293 605h7v8h-7zM308 605h15v8h-15zM338 605h8v8h-8zM571 605h8v8h-8zM248 613h7v7h-7zM263 613h7v7h-7zM285 613h8v7h-8zM323 613h8v7h-8zM571 613h8v7h-8zM263 620h7v8h-7zM300 620h8v8h-8zM240 628h8v8h-8zM255 628h8v8h-8zM270 628h8v8h-8zM293 628h7v8h-7zM316 628h15v8h-15zM541 628h23v8h-23zM263 636h7v7h-7zM278 636h15v7h-15zM300 636h8v7h-8zM519 636h15v7h-15zM541 636h8v7h-8zM263 643h7v8h-7zM503 643h8v8h-8zM233 651h7v7h-7zM248 651h7v7h-7zM263 651h7v7h-7z" fill="#3d9df2"/><path d="M481 319h22v8h-22zM466 327h7v7h-7zM481 327h7v7h-7zM481 334h7v8h-7zM466 342h22v7h-22zM496 342h7v7h-7zM436 349h7v8h-7zM458 349h8v8h-8zM451 357h22v7h-22zM488 357h8v7h-8zM421 364h7v8h-7zM443 364h8v8h-8zM481 364h7v8h-7zM436 372h7v8h-7zM458 372h8v8h-8zM488 372h8v8h-8zM361 380h7v7h-7zM376 380h15v7h-15zM398 380h8v7h-8zM443 380h8v7h-8zM481 380h7v7h-7zM376 387h22v8h-22zM413 387h8v8h-8zM428 387h15v8h-15zM466 387h7v8h-7zM255 395h8v7h-8zM368 395h8v7h-8zM428 395h8v7h-8zM481 395h7v7h-7zM233 402h7v8h-7zM248 402h15v8h-15zM376 402h15v8h-15zM413 402h15v8h-15zM436 402h7v8h-7zM458 402h8v8h-8zM233 410h15v7h-15zM346 410h7v7h-7zM368 410h8v7h-8zM248 417h7v8h-7zM383 417h8v8h-8zM398 417h8v8h-8zM421 417h7v8h-7zM443 417h8v8h-8zM218 425h7v7h-7zM233 425h7v7h-7zM331 425h7v7h-7zM353 425h8v7h-8zM368 425h15v7h-15zM391 425h7v7h-7zM406 425h7v7h-7zM225 432h8v8h-8zM361 432h7v8h-7zM383 432h8v8h-8zM398 432h23v8h-23zM428 432h8v8h-8zM443 432h8v8h-8zM218 440h22v7h-22zM338 440h8v7h-8zM361 440h37v7h-37zM353 447h8v8h-8zM398 447h8v8h-8zM413 447h15v8h-15zM225 455h8v7h-8zM353 455h15v7h-15zM391 455h22v7h-22zM338 462h8v8h-8zM368 462h8v8h-8zM391 462h15v8h-15zM413 462h8v8h-8zM353 470h8v7h-8zM391 470h7v7h-7zM361 485h7v7h-7zM398 485h8v7h-8zM413 485h8v7h-8zM353 492h8v8h-8zM406 492h7v8h-7zM346 500h7v8h-7zM376 500h7v8h-7zM391 500h7v8h-7zM413 500h8v8h-8zM338 508h8v7h-8zM353 508h8v7h-8zM406 508h7v7h-7zM331 515h7v8h-7zM346 515h7v8h-7zM331 523h15v7h-15zM353 523h15v7h-15zM323 530h30v8h-30zM331 538h15v7h-15zM361 538h7v7h-7zM398 538h8v7h-8zM413 538h8v7h-8zM323 545h15v8h-15zM346 545h15v8h-15zM376 545h7v8h-7zM391 545h7v8h-7zM316 553h7v7h-7zM338 553h8v7h-8zM368 553h8v7h-8zM383 553h8v7h-8zM398 553h8v7h-8zM308 560h8v8h-8zM323 560h30v8h-30zM376 560h15v8h-15zM308 568h23v7h-23zM361 568h7v7h-7zM383 568h23v7h-23zM293 575h15v8h-15zM316 575h22v8h-22zM376 575h7v8h-7zM300 583h8v7h-8zM316 583h7v7h-7zM285 590h8v8h-8zM308 590h23v8h-23zM293 598h7v7h-7zM308 598h8v7h-8zM285 605h8v8h-8zM300 605h8v8h-8zM278 613h7v7h-7zM293 613h23v7h-23zM285 620h15v8h-15zM278 628h7v8h-7zM255 636h8v7h-8zM285 643h8v8h-8zM240 651h8v7h-8z" fill="#0d5fbf"/><path d="M428 402h8v8h-8zM428 410h8v7h-8zM406 417h15v8h-15zM428 417h8v8h-8zM225 425h8v7h-8zM240 425h8v7h-8zM398 425h8v7h-8zM421 425h15v7h-15zM233 432h7v8h-7zM391 432h7v8h-7zM421 432h7v8h-7zM398 440h30v7h-30zM225 447h8v8h-8zM368 447h15v8h-15zM391 447h7v8h-7zM406 447h7v8h-7zM368 455h23v7h-23zM346 462h22v8h-22zM376 462h15v8h-15zM361 470h30v7h-30zM368 485h30v7h-30zM338 492h8v8h-8zM361 492h37v8h-37zM361 500h15v8h-15zM383 500h8v8h-8zM398 500h8v8h-8zM361 508h22v7h-22zM338 515h8v8h-8zM353 515h8v8h-8zM368 515h8v8h-8zM346 523h7v7h-7zM338 545h8v8h-8zM293 583h7v7h-7zM300 590h8v8h-8zM270 613h8v7h-8zM278 620h7v8h-7zM285 628h8v8h-8z" fill="#5e35b1"/></g>
</svg>
<div class="abs" style="left:94px;top:298px;width:649px;height:451px;overflow:hidden"><div class="t" style="left:101.36px;top:11.00px;font-size:9.54px;color:#767676;-webkit-text-stroke:0.45px #767676;letter-spacing:2.10px;transform:scaleX(1.0408);transform-origin:0 0;">KENSINGTON</div>
<div class="t" style="left:187.75px;top:28.00px;font-size:9.54px;color:#767676;-webkit-text-stroke:0.45px #767676;letter-spacing:2.10px;transform:scaleX(1.0450);transform-origin:0 0;">ARTESIAN</div>
<div class="t" style="left:191.25px;top:40.00px;font-size:9.54px;color:#767676;-webkit-text-stroke:0.45px #767676;letter-spacing:2.10px;transform:scaleX(1.0482);transform-origin:0 0;">HEIGHTS</div>
<div class="t" style="left:487.07px;top:163.00px;font-size:9.54px;color:#767676;-webkit-text-stroke:0.45px #767676;letter-spacing:2.10px;transform:scaleX(1.0247);transform-origin:0 0;">RANCHO SERENO</div>
<div class="t" style="left:75.79px;top:215.00px;font-size:10px;color:#858585;transform:scaleX(1.0284);transform-origin:0 0;width:36px;overflow:hidden;">The Egg</div>
<div class="t" style="left:159.48px;top:361.00px;font-size:8.6px;color:#9a9a9a;transform:scaleX(0.8939);transform-origin:0 0;">Pennwood Ave</div>
<div class="t" style="left:131.91px;top:385.00px;font-size:10px;color:#858585;transform:scaleX(0.9765);transform-origin:0 0;">Clark High School</div>
<div class="t" style="left:572.90px;top:291.00px;font-size:10px;color:#858585;transform:scaleX(0.9993);transform-origin:0 0;">Count's Kustoms</div>
<div class="t" style="left:616.96px;top:80.00px;font-size:9.5px;color:#858585;transform:scaleX(0.7729);transform-origin:0 0;">W Oakey Blvd</div>
<div class="t" style="left:592.71px;top:110.00px;font-size:9.54px;color:#767676;-webkit-text-stroke:0.45px #767676;letter-spacing:2.10px;transform:scaleX(1.0247);transform-origin:0 0;">GLEN HEIGHTS</div>
<div class="t" style="left:613.32px;top:122.00px;font-size:9.54px;color:#767676;-webkit-text-stroke:0.45px #767676;letter-spacing:2.10px;transform:scaleX(1.0247);transform-origin:0 0;">ESTATES</div>
<div class="t" style="left:602.3px;top:66.7px;font-size:8.8px;color:#8a8a8a;transform:translate(-50%,-50%) rotate(90deg) scaleX(0.843);transform-origin:50% 50%">Rancho Drive</div>
<div class="t" style="left:45.3px;top:264.0px;font-size:8.6px;color:#8a8a8a;transform:translate(-50%,-50%) rotate(90deg) scaleX(0.860);transform-origin:50% 50%">S Decatur Blvd</div>
<div class="t" style="left:45.3px;top:393.2px;font-size:8.6px;color:#8a8a8a;transform:translate(-50%,-50%) rotate(90deg) scaleX(0.860);transform-origin:50% 50%">S Decatur Blvd</div>
<div class="t" style="left:541.4px;top:363.8px;font-size:9.4px;color:#8a8a8a;transform:translate(-50%,-50%) rotate(-54deg) scaleX(0.984);transform-origin:50% 50%">Las Vegas Fwy</div>
<div class="t" style="left:630.0px;top:421.0px;font-size:8.5px;color:#3c3c3c;transform:translate(-50%,-50%) rotate(-60deg) scaleX(0.908);transform-origin:50% 50%">Sammy Davis Jr Dr</div></div>
<div class="mbtn" style="left:632px"></div><div class="mbtn" style="left:668px"></div><div class="mbtn" style="left:704px"></div>
<svg class="abs" style="left:639px;top:310px" width="16" height="17" viewBox="0 0 16 17"><g stroke="#5ab1f3" stroke-width="1.3" fill="none"><path d="M4 12.500L12 4.500"/></g><path d="M8.600 3H13.500V7.900zM7.400 14H2.500V9.100z" fill="#5ab1f3"/></svg>
<svg class="abs" style="left:676px;top:311px" width="14" height="14" viewBox="0 0 24 24"><path fill="#5ab1f3" d="M19.43 12.98c.04-.32.07-.64.07-.98 0-.34-.03-.66-.07-.98l2.11-1.65c.19-.15.24-.42.12-.64l-2-3.46a.5.5 0 0 0-.61-.22l-2.49 1c-.52-.4-1.08-.73-1.69-.98l-.38-2.65A.488.488 0 0 0 14 2h-4c-.25 0-.46.18-.49.42l-.38 2.65c-.61.25-1.17.59-1.69.98l-2.49-1a.566.566 0 0 0-.18-.03c-.17 0-.34.09-.43.25l-2 3.46c-.13.22-.07.49.12.64l2.11 1.65c-.04.32-.07.65-.07.98 0 .33.03.66.07.98l-2.11 1.65c-.19.15-.24.42-.12.64l2 3.46a.5.5 0 0 0 .61.22l2.49-1c.52.4 1.08.73 1.69.98l.38 2.65c.03.24.24.42.49.42h4c.25 0 .46-.18.49-.42l.38-2.65c.61-.25 1.17-.59 1.69-.98l2.49 1c.06.02.12.03.18.03.17 0 .34-.09.43-.25l2-3.46c.12-.22.07-.49-.12-.64l-2.11-1.65zm-1.98-1.71c.04.31.05.52.05.73 0 .21-.02.43-.05.73l-.14 1.13.89.7 1.08.84-.7 1.21-1.27-.51-1.04-.42-.9.68c-.43.32-.84.56-1.25.73l-1.06.43-.16 1.13-.2 1.35h-1.4l-.19-1.35-.16-1.13-1.06-.43c-.43-.18-.83-.41-1.23-.71l-.91-.7-1.06.43-1.27.51-.7-1.21 1.08-.84.89-.7-.14-1.13c-.03-.31-.05-.54-.05-.74s.02-.43.05-.73l.14-1.13-.89-.7-1.08-.84.7-1.21 1.27.51 1.04.42.9-.68c.43-.32.84-.56 1.25-.73l1.06-.43.16-1.13.2-1.35h1.39l.19 1.35.16 1.13 1.06.43c.43.18.83.41 1.23.71l.91.7 1.06-.43 1.27-.51.7 1.21-1.07.85-.89.7.14 1.13zM12 8c-2.21 0-4 1.79-4 4s1.790 4 4 4 4-1.790 4-4-1.790-4-4-4zm0 6c-1.100 0-2-.9-2-2s.9-2 2-2 2 .9 2 2-.9 2-2 2z"/></svg>
<svg class="abs" style="left:716px;top:311px" width="6" height="14" viewBox="0 0 6 14"><g fill="#5ab1f3"><circle cx="3" cy="2.6" r="1.3"/><circle cx="3" cy="7" r="1.3"/><circle cx="3" cy="11.4" r="1.3"/></g></svg>
<!-- zoom ctl -->
<div class="abs" style="left:706px;top:685px;width:30px;height:60px;border:1px solid #2c3842;border-radius:3px;background:rgba(24,28,32,.92)"></div>
<div class="abs" style="left:713px;top:714px;width:17px;height:1px;background:#2c3842"></div>
<svg class="abs" style="left:716px;top:694px" width="11" height="11" viewBox="0 0 11 11"><path d="M5.5 1v9M1 5.500h9" stroke="#5ab1f3" stroke-width="1.3"/></svg>
<svg class="abs" style="left:716px;top:724px" width="11" height="11" viewBox="0 0 11 11"><path d="M1 5.500h9" stroke="#5ab1f3" stroke-width="1.5"/></svg>
<!-- heat legend -->
<div class="sw" style="left:119px;top:771px;background:#5e35b1"></div>
<div class="sw" style="left:221px;top:771px;background:#0d5fbf"></div>
<div class="sw" style="left:364px;top:771px;background:#3d9df2"></div>
<div class="sw" style="left:500px;top:771px;background:#64c864"></div>
<div class="sw" style="left:635px;top:771px;background:#a1f3a1"></div>

<!-- residential card -->
<div class="card" style="left:771px;top:263px;width:317px;height:188px"></div>
<svg class="abs" style="left:1065px;top:273px" width="6" height="14" viewBox="0 0 6 14"><g fill="#5ab1f3"><circle cx="3.5" cy="2.2" r="1.5"/><circle cx="3.5" cy="6.600" r="1.5"/><circle cx="3.5" cy="11" r="1.5"/></g></svg>
<svg class="abs" style="left:780px;top:297px" width="124" height="124" viewBox="780 297 124 124"><path d="M842.70 300.60A58.8 58.8 0 0 1 869.72 411.62L860.53 393.86A38.8 38.8 0 0 0 842.70 320.60Z" fill="#a1f3a1"/><path d="M869.72 411.62A58.8 58.8 0 0 1 792.47 389.97L809.55 379.57A38.8 38.8 0 0 0 860.53 393.86Z" fill="#3d9df2"/><path d="M792.47 389.97A58.8 58.8 0 0 1 790.65 332.05L808.35 341.35A38.8 38.8 0 0 0 809.55 379.57Z" fill="#fdb72c"/><path d="M790.65 332.05A58.8 58.8 0 0 1 823.13 303.95L829.79 322.81A38.8 38.8 0 0 0 808.35 341.35Z" fill="#f48fb1"/><path d="M823.13 303.95A58.8 58.8 0 0 1 842.70 300.60L842.70 320.60A38.8 38.8 0 0 0 829.79 322.81Z" fill="#f83c50"/><path d="M860.30 393.42L869.95 412.07" stroke="#1c2a3c" stroke-width=".6"/><path d="M809.98 379.31L792.04 390.23" stroke="#1c2a3c" stroke-width=".6"/><path d="M808.80 341.58L790.21 331.82" stroke="#1c2a3c" stroke-width=".6"/><path d="M829.95 323.28L822.96 303.48" stroke="#1c2a3c" stroke-width=".6"/><path d="M842.70 321.10L842.70 300.10" stroke="#1c2a3c" stroke-width=".6"/></svg>
<div class="sw" style="left:918px;top:332.00px;background:#f83c50"></div>
<div class="sw" style="left:918px;top:350.00px;background:#f48fb1"></div>
<div class="sw" style="left:918px;top:368.00px;background:#ff8112"></div>
<div class="sw" style="left:918px;top:387.00px;background:#3d9df2"></div>
<div class="sw" style="left:918px;top:405.00px;background:#a1f3a1"></div>

<!-- commercial card -->
<div class="card" style="left:1105px;top:263px;width:317px;height:188px"></div>
<svg class="abs" style="left:1115px;top:297px" width="124" height="124" viewBox="1115 297 124 124"><path d="M1177.00 300.60A58.8 58.8 0 0 1 1208.19 409.24L1197.58 392.29A38.8 38.8 0 0 0 1177.00 320.60Z" fill="#a1f3a1"/><path d="M1208.19 409.24A58.8 58.8 0 0 1 1131.69 396.88L1147.10 384.13A38.8 38.8 0 0 0 1197.58 392.29Z" fill="#3d9df2"/><path d="M1131.69 396.88A58.8 58.8 0 0 1 1124.95 332.05L1142.65 341.35A38.8 38.8 0 0 0 1147.10 384.13Z" fill="#fdb72c"/><path d="M1124.95 332.05A58.8 58.8 0 0 1 1157.78 303.83L1164.32 322.73A38.8 38.8 0 0 0 1142.65 341.35Z" fill="#f48fb1"/><path d="M1157.78 303.83A58.8 58.8 0 0 1 1177.00 300.60L1177.00 320.60A38.8 38.8 0 0 0 1164.32 322.73Z" fill="#f83c50"/><path d="M1197.32 391.87L1208.46 409.67" stroke="#1c2a3c" stroke-width=".6"/><path d="M1147.49 383.81L1131.31 397.20" stroke="#1c2a3c" stroke-width=".6"/><path d="M1143.10 341.58L1124.51 331.82" stroke="#1c2a3c" stroke-width=".6"/><path d="M1164.48 323.20L1157.62 303.36" stroke="#1c2a3c" stroke-width=".6"/><path d="M1177.00 321.10L1177.00 300.10" stroke="#1c2a3c" stroke-width=".6"/></svg>

<!-- costs card -->
<div class="card" style="left:771px;top:470px;width:651px;height:331px"></div>
<div class="abs" style="left:782px;top:500px;width:600px;height:250px;background:#16191c"></div>
<div class="abs" style="left:796px;top:534px;width:216px;height:68px;background:#a1f3a1"></div>
<div class="abs" style="left:1012px;top:534px;width:161px;height:68px;background:#64c864"></div>
<div class="abs" style="left:1173px;top:534px;width:15px;height:68px;background:#3d9df2"></div>
<div class="abs" style="left:1188px;top:534px;width:60px;height:68px;background:#0d5fbf"></div>
<div class="abs" style="left:796px;top:637px;width:31px;height:68px;background:#a1f3a1"></div>
<div class="abs" style="left:827px;top:637px;width:32px;height:68px;background:#64c864"></div>
<div class="abs" style="left:859px;top:637px;width:12px;height:68px;background:#3d9df2"></div>
<div class="abs" style="left:871px;top:637px;width:5px;height:68px;background:#0d5fbf"></div>
<div class="abs" style="left:876px;top:637px;width:66px;height:68px;background:#5e35b1"></div>
<svg class="abs" style="left:782px;top:712px" width="456" height="24" viewBox="782 712 456 24"><g stroke="#3e4853" fill="none">
<path d="M795.700 719.800H1238" stroke-width="1.700"/>
<path d="M796.50 719.800v10" stroke-width="1.7"/>
<path d="M816.29 719.800v5.3" stroke-width="1.4"/>
<path d="M836.08 719.800v5.3" stroke-width="1.4"/>
<path d="M855.87 719.800v5.3" stroke-width="1.4"/>
<path d="M875.66 719.800v5.3" stroke-width="1.4"/>
<path d="M895.45 719.800v5.3" stroke-width="1.4"/>
<path d="M915.24 719.800v10" stroke-width="1.7"/>
<path d="M935.03 719.800v5.3" stroke-width="1.4"/>
<path d="M954.82 719.800v5.3" stroke-width="1.4"/>
<path d="M974.61 719.800v5.3" stroke-width="1.4"/>
<path d="M994.40 719.800v5.3" stroke-width="1.4"/>
<path d="M1014.19 719.800v5.3" stroke-width="1.4"/>
<path d="M1033.98 719.800v10" stroke-width="1.7"/>
<path d="M1053.77 719.800v5.3" stroke-width="1.4"/>
<path d="M1073.56 719.800v5.3" stroke-width="1.4"/>
<path d="M1093.35 719.800v5.3" stroke-width="1.4"/>
<path d="M1113.14 719.800v5.3" stroke-width="1.4"/>
<path d="M1132.93 719.800v5.3" stroke-width="1.4"/>
<path d="M1152.72 719.800v10" stroke-width="1.7"/>
<path d="M1172.51 719.800v5.3" stroke-width="1.4"/>
<path d="M1192.30 719.800v5.3" stroke-width="1.4"/>
<path d="M1212.09 719.800v5.3" stroke-width="1.4"/>
<path d="M1231.88 719.800v5.3" stroke-width="1.4"/>
<path d="M1251.67 719.800v5.3" stroke-width="1.4"/>
</g></svg>
<div class="sw" style="left:800px;top:767px;background:#5e35b1"></div>
<div class="sw" style="left:903px;top:767px;background:#0d5fbf"></div>
<div class="sw" style="left:1046px;top:767px;background:#3d9df2"></div>
<div class="sw" style="left:1182px;top:767px;background:#64c864"></div>
<div class="t" style="left:103.73px;top:23.00px;font-size:14.16px;color:#f2f4f6;-webkit-text-stroke:0.3px #f2f4f6;transform:scaleX(0.9784);transform-origin:0 0;">WebEOC</div>
<div class="t" style="left:84.33px;top:67.00px;font-size:9.3px;color:#5ab1f3;-webkit-text-stroke:0.25px #5ab1f3;transform:scaleX(0.9635);transform-origin:0 0;">DAMAGE ASSESSMENTS</div>
<div class="t" style="left:71.56px;top:104.00px;font-size:27.3px;color:#ffffff;transform:scaleX(1.0272);transform-origin:0 0;">Damage Assessments</div>
<div class="t" style="left:73.32px;top:140.00px;font-size:12.9px;color:#b9c3ce;transform:scaleX(0.9452);transform-origin:0 0;">Daily Operations</div>
<div class="t" style="left:90.11px;top:183.00px;font-size:10.1px;color:#b9c3ce;-webkit-text-stroke:0.25px #b9c3ce;transform:scaleX(1.0338);transform-origin:0 0;">DAMAGES</div>
<div class="t" style="left:166.03px;top:183.00px;font-size:10.1px;color:#5ab1f3;-webkit-text-stroke:0.25px #5ab1f3;transform:scaleX(1.0172);transform-origin:0 0;">DASHBOARD</div>
<div class="t" style="left:728.18px;top:109.00px;font-size:24.4px;color:#ffffff;transform:scaleX(0.9965);transform-origin:0 0;">17,851,676</div>
<div class="t" style="left:863.09px;top:111.00px;font-size:9.8px;color:#e8ecf0;transform:scaleX(1.0683);transform-origin:0 0;">Total</div>
<div class="t" style="left:862.54px;top:121.00px;font-size:9.8px;color:#e8ecf0;transform:scaleX(0.9726);transform-origin:0 0;">Damages</div>
<div class="t" style="left:930.72px;top:109.00px;font-size:24.4px;color:#f4757d;transform:scaleX(1.0527);transform-origin:0 0;">73</div>
<div class="t" style="left:962.43px;top:117.00px;font-size:9.24px;color:#f4757d;-webkit-text-stroke:0.2px #f4757d;transform:scaleX(1.0381);transform-origin:0 0;">Destroyed</div>
<div class="t" style="left:1030.89px;top:109.00px;font-size:24.4px;color:#f48fb1;transform:scaleX(1.0418);transform-origin:0 0;">148</div>
<div class="t" style="left:1080.20px;top:117.00px;font-size:9.24px;color:#f48fb1;-webkit-text-stroke:0.2px #f48fb1;transform:scaleX(1.0845);transform-origin:0 0;">Major</div>
<div class="t" style="left:1130.61px;top:109.00px;font-size:24.4px;color:#fbc02d;transform:scaleX(1.0606);transform-origin:0 0;">222</div>
<div class="t" style="left:1180.10px;top:117.00px;font-size:9.24px;color:#fbc02d;-webkit-text-stroke:0.2px #fbc02d;transform:scaleX(1.0800);transform-origin:0 0;">Minor</div>
<div class="t" style="left:1230.33px;top:109.00px;font-size:24.4px;color:#9ccff9;transform:scaleX(1.0418);transform-origin:0 0;">248</div>
<div class="t" style="left:94.13px;top:275.00px;font-size:11.2px;color:#f4f6f8;-webkit-text-stroke:0.25px #f4f6f8;transform:scaleX(1.1047);transform-origin:0 0;">Costs Heat Map (All Categories)</div>
<div class="t" style="left:781.17px;top:275.00px;font-size:11.2px;color:#f4f6f8;-webkit-text-stroke:0.25px #f4f6f8;transform:scaleX(1.0911);transform-origin:0 0;">Residential Damage Status</div>
<div class="t" style="left:1115.89px;top:275.00px;font-size:11.2px;color:#f4f6f8;-webkit-text-stroke:0.25px #f4f6f8;transform:scaleX(1.0911);transform-origin:0 0;">Commercial Damage Status</div>
<div class="t" style="left:781.63px;top:481.00px;font-size:11.2px;color:#f4f6f8;-webkit-text-stroke:0.25px #f4f6f8;transform:scaleX(1.1036);transform-origin:0 0;">Costs Residential vs Commercial</div>
<div class="t" style="left:810.78px;top:343.00px;font-size:27.3px;color:#ffffff;transform:scaleX(1.0336);transform-origin:0 0;">1049</div>
<div class="t" style="left:828.57px;top:373.00px;font-size:8.3px;color:#eef1f4;-webkit-text-stroke:0.25px #eef1f4;transform:scaleX(1.0562);transform-origin:0 0;">TOTAL</div>
<div class="t" style="left:1152.98px;top:343.00px;font-size:27.3px;color:#ffffff;transform:scaleX(1.0419);transform-origin:0 0;">208</div>
<div class="t" style="left:1162.57px;top:373.00px;font-size:8.3px;color:#eef1f4;-webkit-text-stroke:0.25px #eef1f4;transform:scaleX(1.0796);transform-origin:0 0;">TOTAL</div>
<div class="t" style="left:936.83px;top:334.00px;font-size:10.1px;color:#e9edf1;transform:scaleX(1.0732);transform-origin:0 0;">Destroyed</div>
<div class="t" style="left:1010.97px;top:334.00px;font-size:10.1px;color:#e9edf1;transform:scaleX(1.0485);transform-origin:0 0;">61 (6%)</div>
<div class="t" style="left:1053.16px;top:333.00px;font-size:8.96px;color:#5db4f5;-webkit-text-stroke:0.3px #5db4f5;transform:scaleX(0.9604);transform-origin:0 0;">VIEW</div>
<div class="t" style="left:936.79px;top:352.00px;font-size:10.1px;color:#e9edf1;transform:scaleX(1.1239);transform-origin:0 0;">Major</div>
<div class="t" style="left:999.10px;top:352.00px;font-size:10.1px;color:#e9edf1;transform:scaleX(1.0509);transform-origin:0 0;">123 (12%)</div>
<div class="t" style="left:1053.16px;top:352.00px;font-size:8.96px;color:#5db4f5;-webkit-text-stroke:0.3px #5db4f5;transform:scaleX(0.9604);transform-origin:0 0;">VIEW</div>
<div class="t" style="left:936.79px;top:370.00px;font-size:10.1px;color:#e9edf1;transform:scaleX(1.1239);transform-origin:0 0;">Minor</div>
<div class="t" style="left:999.10px;top:370.00px;font-size:10.1px;color:#e9edf1;transform:scaleX(1.0509);transform-origin:0 0;">183 (17%)</div>
<div class="t" style="left:1053.16px;top:371.00px;font-size:8.96px;color:#5db4f5;-webkit-text-stroke:0.3px #5db4f5;transform:scaleX(0.9604);transform-origin:0 0;">VIEW</div>
<div class="t" style="left:937.70px;top:389.00px;font-size:10.1px;color:#e9edf1;transform:scaleX(1.1213);transform-origin:0 0;">Affected</div>
<div class="t" style="left:999.37px;top:389.00px;font-size:10.1px;color:#e9edf1;transform:scaleX(1.0451);transform-origin:0 0;">248 (24%)</div>
<div class="t" style="left:1053.16px;top:389.00px;font-size:8.96px;color:#5db4f5;-webkit-text-stroke:0.3px #5db4f5;transform:scaleX(0.9604);transform-origin:0 0;">VIEW</div>
<div class="t" style="left:936.82px;top:407.00px;font-size:10.1px;color:#e9edf1;transform:scaleX(1.0885);transform-origin:0 0;">None</div>
<div class="t" style="left:999.69px;top:407.00px;font-size:10.1px;color:#e9edf1;transform:scaleX(1.0382);transform-origin:0 0;">434 (41%)</div>
<div class="t" style="left:1053.16px;top:407.00px;font-size:8.96px;color:#5db4f5;-webkit-text-stroke:0.3px #5db4f5;transform:scaleX(0.9604);transform-origin:0 0;">VIEW</div>
<div class="t" style="left:795.94px;top:518.00px;font-size:11px;color:#f0f3f6;transform:scaleX(0.9751);transform-origin:0 0;">Residential - $14.36M</div>
<div class="t" style="left:795.76px;top:623.00px;font-size:11px;color:#f0f3f6;transform:scaleX(0.9877);transform-origin:0 0;">Commercial - $3.48M</div>
<div class="t" style="left:788.29px;top:735.00px;font-size:11.5px;color:#8b99a9;transform:scaleX(0.9880);transform-origin:0 0;">$0</div>
<div class="t" style="left:900.59px;top:735.00px;font-size:11.5px;color:#8b99a9;transform:scaleX(0.9765);transform-origin:0 0;">$3m</div>
<div class="t" style="left:1023.59px;top:735.00px;font-size:11.5px;color:#8b99a9;transform:scaleX(0.9672);transform-origin:0 0;">$6m</div>
<div class="t" style="left:1142.49px;top:735.00px;font-size:11.5px;color:#8b99a9;transform:scaleX(0.9719);transform-origin:0 0;">$9m</div>
<div class="t" style="left:138.80px;top:773.00px;font-size:10.2px;color:#e9edf1;transform:scaleX(1.0293);transform-origin:0 0;">$1,000,000 +</div>
<div class="t" style="left:241.20px;top:773.00px;font-size:10.2px;color:#e9edf1;transform:scaleX(1.0274);transform-origin:0 0;">$500,000 - $1,000,000</div>
<div class="t" style="left:384.09px;top:773.00px;font-size:10.2px;color:#e9edf1;transform:scaleX(1.0386);transform-origin:0 0;">$250,000 - $500,000</div>
<div class="t" style="left:519.79px;top:773.00px;font-size:10.2px;color:#e9edf1;transform:scaleX(1.0386);transform-origin:0 0;">$100,000 - $250,000</div>
<div class="t" style="left:654.38px;top:773.00px;font-size:10.2px;color:#e9edf1;transform:scaleX(1.0335);transform-origin:0 0;">0 - $100,000</div>
<div class="t" style="left:820.30px;top:769.00px;font-size:10.2px;color:#e9edf1;transform:scaleX(1.0226);transform-origin:0 0;">$1,000,000 +</div>
<div class="t" style="left:922.80px;top:769.00px;font-size:10.2px;color:#e9edf1;transform:scaleX(1.0283);transform-origin:0 0;">$500,000 - $1,000,000</div>
<div class="t" style="left:1066.20px;top:769.00px;font-size:10.2px;color:#e9edf1;transform:scaleX(1.0290);transform-origin:0 0;">$250,000 - $500,000</div>
<div class="t" style="left:1201.39px;top:769.00px;font-size:10.2px;color:#e9edf1;transform:scaleX(1.0386);transform-origin:0 0;">$100,000 - $250,000</div>
</body>
</html>
